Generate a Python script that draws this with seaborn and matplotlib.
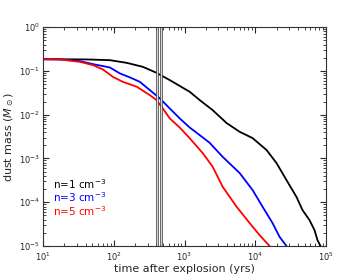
import numpy as np
import pandas as pd
import matplotlib
matplotlib.use("Agg")
import matplotlib.pyplot as plt
import seaborn as sns

# time after explosion (yrs) and dust mass (Msun)
t_n1 = [10, 40, 88, 152, 257, 402, 618, 1183, 1637, 2500, 3939, 6010, 9165,
        14430, 19960, 27620, 38270, 46480, 58350, 68650, 75690, 83430]
m_n1 = [0.185, 0.183, 0.176, 0.153, 0.124, 0.0905, 0.0617, 0.0334, 0.0216, 0.0127,
        0.00643, 0.00407, 0.00292, 0.00156, 7.85e-4, 3.21e-4, 1.32e-4, 6.64e-5,
        3.92e-5, 2.32e-5, 1.37e-5, 1.0e-5]

t_n3 = [10, 17.4, 33.3, 50.7, 88, 122, 169, 233, 323, 447, 618, 855, 1183,
        1637, 2266, 3459, 6010, 9165, 12680, 17540, 22000, 27620]
m_n3 = [0.185, 0.183, 0.1675, 0.143, 0.120, 0.0877, 0.0711, 0.0564, 0.0365, 0.0236,
        0.0139, 0.00824, 0.0051, 0.00342, 0.00228, 0.00109, 4.65e-4, 1.9e-4,
        7.9e-5, 3.35e-5, 1.63e-5, 1.0e-5]

t_n5 = [10, 17.4, 33.3, 50.7, 70.2, 97.1, 134, 212, 323, 402, 493, 618, 855,
        1183, 1806, 2500, 3459, 5445, 8318, 11500, 15920]
m_n5 = [0.185, 0.183, 0.161, 0.1356, 0.108, 0.0733, 0.0564, 0.0434, 0.028, 0.0216,
        0.0139, 0.00824, 0.0051, 0.0029, 0.00133, 6.47e-4, 2.26e-4, 7.9e-5,
        3.35e-5, 1.78e-5, 1.0e-5]

labels = ["n=1 cm$^{-3}$", "n=3 cm$^{-3}$", "n=5 cm$^{-3}$"]
colors = ["black", "blue", "red"]
t_marks = [410, 470]

sns.set_style("ticks")
plt.rcParams.update({
    "xtick.direction": "in", "ytick.direction": "in",
    "xtick.top": True, "ytick.right": True,
    "xtick.minor.visible": True, "ytick.minor.visible": True,
    "xtick.major.size": 4, "ytick.major.size": 4,
    "xtick.minor.size": 2, "ytick.minor.size": 2,
    "axes.edgecolor": "0.2", "axes.linewidth": 0.8,
})

df = pd.concat([
    pd.DataFrame({"t": t_n1, "m": m_n1, "run": labels[0]}),
    pd.DataFrame({"t": t_n3, "m": m_n3, "run": labels[1]}),
    pd.DataFrame({"t": t_n5, "m": m_n5, "run": labels[2]}),
])

fig = plt.figure(figsize=(3.54, 2.74), dpi=100)
ax = fig.add_axes([0.1215, 0.102, 0.7995, 0.799])

sns.lineplot(data=df, x="t", y="m", hue="run", palette=colors,
             estimator=None, sort=False, lw=1.3, legend=False, ax=ax)

for tm in t_marks:
    ax.axvline(tm, color="0.3", lw=1.9)
    ax.axvline(tm, color="0.85", lw=0.7)

ax.set_xscale("log")
ax.set_yscale("log")
ax.set_xlim(10, 1e5)
ax.set_ylim(1e-5, 1)
ax.set_xlabel("time after explosion (yrs)", fontsize=8, labelpad=1)
ax.set_ylabel(r"dust mass ($M_\odot$)", fontsize=8, labelpad=2)
ax.tick_params(labelsize=6, pad=2)
ax.tick_params(axis="x", pad=3)

for i, (lab, c) in enumerate(zip(labels, colors)):
    ax.text(0.035, 0.285 - i * 0.062, lab, color=c, fontsize=7.5,
            transform=ax.transAxes, va="center", ha="left")

fig.savefig("out.png", dpi=100)
